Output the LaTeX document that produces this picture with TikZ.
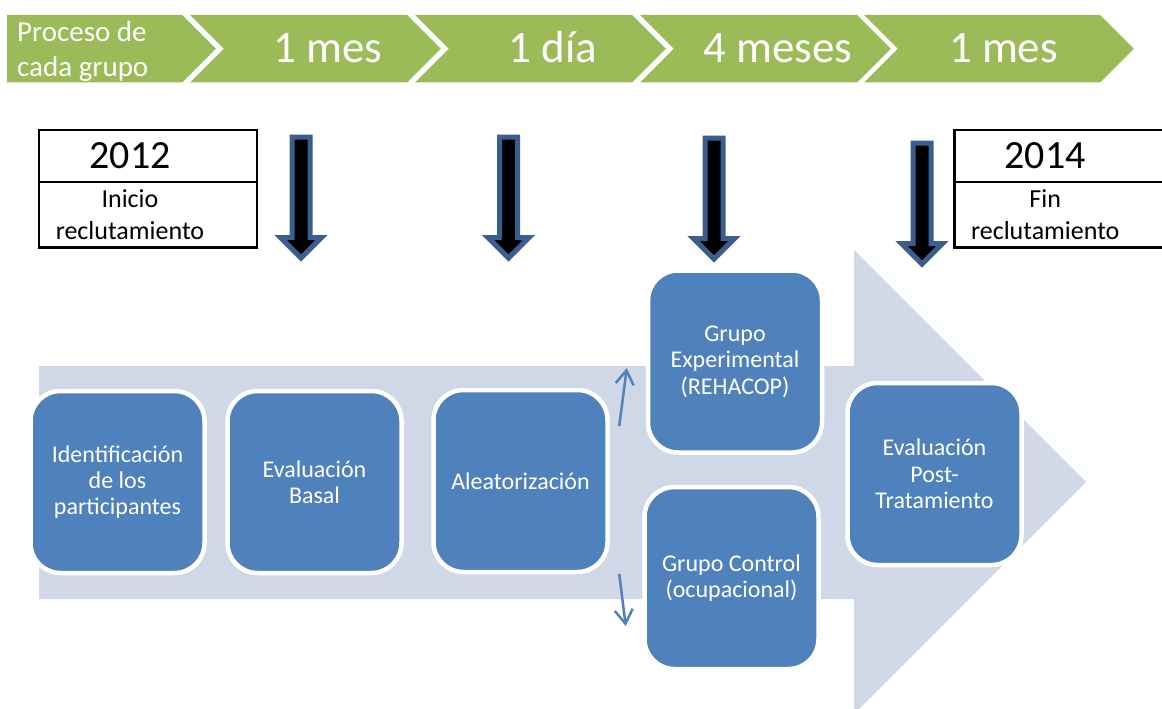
\documentclass[tikz,border=0pt]{standalone}
\usepackage{fontspec}
\setmainfont{Carlito}
\usetikzlibrary{arrows.meta,calc,positioning,shapes.arrows}
\definecolor{bandgreen}{HTML}{9BBB59}
\definecolor{boxblue}{HTML}{4F81BD}
\definecolor{paleblue}{HTML}{D0D8E8}
\definecolor{edgeblue}{HTML}{3B5E8C}
\begin{document}
\begin{tikzpicture}[x=1pt, y=-1pt,
    stage/.style ={rectangle, rounded corners=30, fill=boxblue, draw=white, line width=4.5, text=white, align=center, minimum width=174, minimum height=182, inner sep=0, font=\fontsize{24}{26.4}\selectfont},
    cell/.style  ={rectangle, draw=black, line width=2.5, minimum width=218, outer sep=0, inner sep=0},
    year/.style  ={font=\fontsize{40}{48}\selectfont},
    note/.style  ={align=center, font=\fontsize{26}{32}\selectfont},
    span/.style  ={text=white, anchor=base, font=\fontsize{45}{54}\selectfont},
    drop/.style  ={single arrow, draw=edgeblue, fill=black, line width=5, rotate=-90, anchor=tail, inner xsep=0, inner ysep=6.5, single arrow head extend=11.5, minimum height=121},
    split/.style ={draw=boxblue, line width=2.5, -{Straight Barb[length=14pt, width=18pt, line width=2.5pt]}}]

      \useasboundingbox (0,0) rectangle (1162,709);

      % time band
      \fill[bandgreen] (7,15)   -- (182,15)  -- (215.75,48.75)  -- (182,82.5)  -- (7,82.5)   -- cycle;
      \fill[bandgreen] (190,15) -- (407,15)  -- (440.75,48.75)  -- (407,82.5)  -- (190,82.5) -- (223.75,48.75) -- cycle;
      \fill[bandgreen] (415,15) -- (632,15)  -- (665.75,48.75)  -- (632,82.5)  -- (415,82.5) -- (448.75,48.75) -- cycle;
      \fill[bandgreen] (640,15) -- (857,15)  -- (890.75,48.75)  -- (857,82.5)  -- (640,82.5) -- (673.75,48.75) -- cycle;
      \fill[bandgreen] (864,15) -- (1100,15) -- (1133.75,48.75) -- (1100,82.5) -- (864,82.5) -- (897.75,48.75) -- cycle;
      \node[text=white, align=left, anchor=west, inner sep=0, font=\fontsize{29}{35}\selectfont] (proc) at (17,51) {Proceso de\\cada grupo};
      \node[span] (mes1)  at (328,63)    {1 mes};
      \node[span] (dia1)  at (553,63)    {1 día};
      \node[span] (mes4)  at (778,63)    {4 meses};
      \node[span] (mes1b) at (1003.5,63) {1 mes};

      % years
      \node[cell, minimum height=51.75] (top12) at (148,156.1) {};
      \node[cell, minimum height=65.75, below=0pt of top12] (bot12) {};
      \node[year] (y12) at ($(top12)+(-18,0)$) {2012};
      \node[note] (ini) at ($(bot12)+(-18,0)$) {Inicio\\reclutamiento};
      \node[cell, minimum height=51.75] (top14) at (1063.25,156.1) {};
      \node[cell, minimum height=65.75, below=0pt of top14] (bot14) {};
      \node[year] (y14) at ($(top14)+(-18,0)$) {2014};
      \node[note] (fin) at ($(bot14)+(-18,0)$) {Fin\\reclutamiento};

      % markers
      \node[drop] (drop1) at (301,134.5)   {};
      \node[drop] (drop2) at (508.5,134.5) {};
      \node[drop] (drop3) at (714,135.5)   {};
      \node[drop] (drop4) at (922,140.5)   {};

      % process
      \fill[paleblue] (39,366) -- (854,366) -- (854,250) -- (1086,482) -- (854,714) -- (854,599) -- (39,599) -- cycle;
      \node[stage] (ident) at (117.5,482)            {Identificación\\de los\\participantes};
      \node[stage] (basal) at ($(ident)+(197,0)$)    {Evaluación\\Basal};
      \node[stage] (alea)  at ($(basal)+(206,-1)$)   {Aleatorización};
      \node[stage] (exper) at ($(alea) +(214.5,-119.5)$) {Grupo\\Experimental\\(REHACOP)};
      \node[stage] (ctrl)  at ($(alea) +(211,97)$)   {Grupo Control\\(ocupacional)};
      \node[stage] (post)  at ($(alea) +(414,-7)$)   {Evaluación\\Post-\\Tratamiento};
      \coordinate (upbeg) at ($(alea.east) +(9.5,-55)$);
      \coordinate (upend) at ($(exper.west)+(-19,6.5)$);
      \coordinate (dnbeg) at ($(alea.east) +(9.5,93)$);
      \coordinate (dnend) at ($(ctrl.west) +(-16.5,48)$);
      \path[split] (upbeg) -- (upend);
      \path[split] (dnbeg) -- (dnend);
    \end{tikzpicture}
\end{document}
